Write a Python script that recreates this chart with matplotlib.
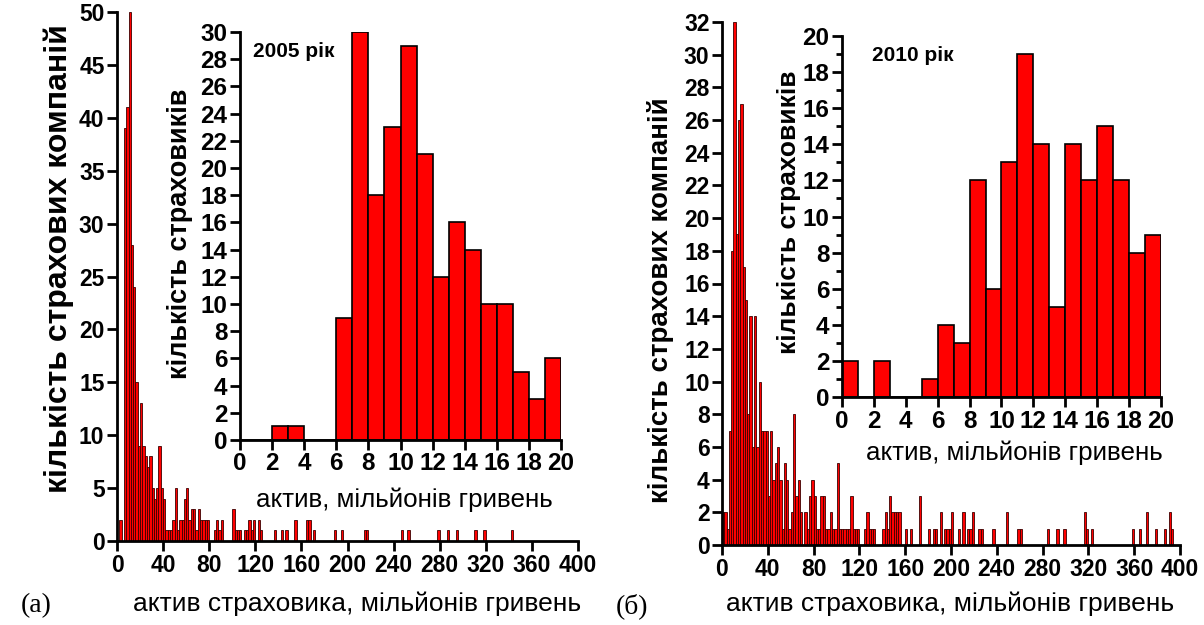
import matplotlib
matplotlib.use("Agg")
import matplotlib.pyplot as plt
from matplotlib.ticker import MultipleLocator

plt.rcParams['font.family'] = ['Liberation Sans', 'DejaVu Sans']

# main histogram (a), 2005: bins of width 2, left edges and counts
a_left = [2, 6, 8, 10, 12, 14, 16, 18, 20, 22, 24, 26, 28, 30, 32, 34, 36, 38,
          40, 42, 44, 46, 48, 50, 52, 54, 56, 58, 60, 62, 64, 66, 68, 70, 72,
          74, 76, 78, 84, 86, 88, 90, 100, 102, 104, 106, 110, 112, 114, 116,
          118, 122, 124, 136, 142, 146, 154, 164, 166, 170, 188, 194, 214, 216,
          246, 252, 278, 286, 294, 310, 318, 342]
a_count = [2, 39, 41, 50, 28, 24, 15, 9, 13, 9, 8, 7, 8, 5, 4, 5, 9, 5,
           4, 1, 1, 1, 2, 5, 1, 2, 2, 4, 5, 2, 3, 3, 1, 3, 2,
           2, 2, 2, 1, 2, 1, 2, 3, 1, 1, 1, 1, 1, 2, 1,
           2, 2, 1, 1, 1, 1, 2, 2, 2, 1, 1, 1, 1, 1,
           1, 1, 1, 1, 1, 1, 1, 1]

# inset (a): bins of width 1 from 0 to 20
a_in_count = [0, 0, 1, 1, 0, 0, 9, 30, 18, 23, 29, 21, 12, 16, 14, 10, 10, 5, 3, 6]

# main histogram (b), 2010
b_left = [0, 2, 4, 6, 8, 10, 12, 14, 16, 18, 20, 22, 24, 26, 28, 30, 32, 34,
          36, 38, 40, 42, 44, 46, 48, 50, 52, 54, 56, 58, 60, 62, 64, 66, 68,
          72, 74, 76, 78, 80, 82, 84, 86, 88, 90, 92, 94, 96, 98, 100, 102,
          104, 106, 108, 110, 112, 114, 116, 118, 124, 126, 128, 130, 132, 140,
          142, 144, 146, 148, 150, 152, 154, 160, 164, 172, 180, 184, 186, 190,
          194, 196, 198, 200, 206, 210, 214, 216, 218, 224, 226, 236, 248, 258,
          260, 284, 292, 298, 316, 318, 322, 358, 364, 370, 378, 386, 390, 392]
b_count = [2, 2, 1, 7, 18, 32, 19, 26, 27, 17, 15, 8, 14, 6, 14, 6, 10, 7,
           7, 7, 3, 7, 4, 5, 6, 4, 1, 5, 4, 1, 2, 8, 3, 4, 2,
           2, 1, 3, 4, 3, 1, 1, 3, 3, 1, 1, 2, 1, 1, 5, 1,
           1, 1, 1, 1, 3, 1, 1, 1, 1, 2, 1, 1, 1, 1,
           2, 1, 3, 2, 2, 2, 2, 1, 1, 3, 1, 1, 1, 2,
           1, 1, 1, 2, 1, 2, 1, 1, 2, 1, 1, 1, 2, 1,
           1, 1, 1, 1, 2, 1, 1, 1, 1, 2, 1, 1, 2, 1]

b_in_count = [2, 0, 2, 0, 0, 1, 4, 3, 12, 6, 13, 19, 14, 5, 14, 12, 15, 12, 8, 9]

main_xticks = list(range(0, 401, 40))
inset_xticks = list(range(0, 21, 2))

W, H = 1204, 625
fig = plt.figure(figsize=(W / 100, H / 100), dpi=100)


def box(x0, y0, x1, y1):
    # pixel box (left, top, right, bottom) -> figure fraction rect
    return [x0 / W, 1 - y1 / H, (x1 - x0) / W, (y1 - y0) / H]


def style(ax, fs):
    for s in ['top', 'right']:
        ax.spines[s].set_visible(False)
    for s in ['left', 'bottom']:
        ax.spines[s].set_linewidth(2)
    ax.tick_params(direction='out', width=2, length=7, labelsize=fs, pad=2)
    ax.tick_params(which='minor', direction='out', width=2, length=4)
    for lab in ax.get_xticklabels() + ax.get_yticklabels():
        lab.set_fontweight('bold')
    ax.patch.set_alpha(0)


def fx(x):
    return x / W


def fy(y):
    return 1 - y / H


# ---- panel (a)
ax1 = fig.add_axes(box(117, 12, 578, 541))
ax1.bar(a_left, a_count, width=2, align='edge', color='#ff0000',
        edgecolor='#3a0000', linewidth=0.6)
ax1.set_xlim(0, 400)
ax1.set_ylim(0, 50)
ax1.set_xticks(main_xticks)
ax1.set_yticks(range(0, 51, 5))
style(ax1, 16.5)

ax1i = fig.add_axes(box(240, 32, 561, 440))
ax1i.bar(range(20), a_in_count, width=1, align='edge', color='#ff0000',
         edgecolor='black', linewidth=1.2)
ax1i.set_xlim(0, 20)
ax1i.set_ylim(0, 30)
ax1i.set_xticks(inset_xticks)
ax1i.set_yticks(range(0, 31, 2))
style(ax1i, 17.5)
ax1i.text(0.8, 28.6, '2005 рік', fontsize=15, fontweight='bold', va='center')

# ---- panel (b)
ax2 = fig.add_axes(box(722, 22, 1180, 545))
ax2.bar(b_left, b_count, width=2, align='edge', color='#ff0000',
        edgecolor='#3a0000', linewidth=0.6)
ax2.set_xlim(0, 400)
ax2.set_ylim(0, 32)
ax2.set_xticks(main_xticks)
ax2.set_yticks(range(0, 33, 2))
style(ax2, 16.5)

ax2i = fig.add_axes(box(842, 36, 1161, 397))
ax2i.bar(range(20), b_in_count, width=1, align='edge', color='#ff0000',
         edgecolor='black', linewidth=1.2)
ax2i.set_xlim(0, 20)
ax2i.set_ylim(0, 20)
ax2i.set_xticks(inset_xticks)
ax2i.set_yticks(range(0, 21, 2))
ax2i.yaxis.set_minor_locator(MultipleLocator(1))
style(ax2i, 17.5)
ax2i.text(1.9, 18.9, '2010 рік', fontsize=15, fontweight='bold', va='center')

# ---- labels
fig.text(fx(357), fy(604), 'актив страховика, мільйонів гривень', fontsize=19,
         ha='center', va='center')
fig.text(fx(950), fy(604), 'актив страховика, мільйонів гривень', fontsize=19,
         ha='center', va='center')
fig.text(fx(404), fy(500), 'актив, мільйонів гривень', fontsize=18.7,
         ha='center', va='center')
fig.text(fx(1014), fy(453), 'актив, мільйонів гривень', fontsize=18.7,
         ha='center', va='center')

fig.text(fx(59), fy(259), 'кількість страхових компаній', fontsize=23,
         fontweight='bold', rotation=90, ha='center', va='center')
fig.text(fx(660), fy(300), 'кількість страхових компаній', fontsize=20,
         fontweight='bold', rotation=90, ha='center', va='center')
fig.text(fx(180), fy(234), 'кількість страховиків', fontsize=19.5,
         fontweight='bold', rotation=90, ha='center', va='center')
fig.text(fx(789), fy(212), 'кількість страховиків', fontsize=19,
         fontweight='bold', rotation=90, ha='center', va='center')

fig.text(fx(36), fy(606), '(а)', fontsize=20, family='Liberation Serif',
         ha='center', va='center')
fig.text(fx(632), fy(606), '(б)', fontsize=20, family='Liberation Serif',
         ha='center', va='center')

fig.savefig('out.png', dpi=100, facecolor='white')
